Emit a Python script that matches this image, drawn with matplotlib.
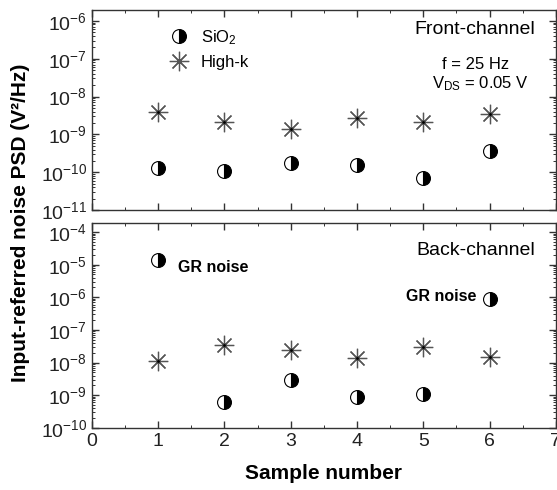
import matplotlib
matplotlib.use('Agg')
import matplotlib.pyplot as plt
from matplotlib.ticker import LogLocator, MultipleLocator, NullFormatter
import numpy as np

plt.rcParams['font.family'] = ['Liberation Sans', 'DejaVu Sans']
plt.rcParams['mathtext.fontset'] = 'custom'
plt.rcParams['mathtext.rm'] = 'Liberation Sans'
plt.rcParams['mathtext.it'] = 'Liberation Sans'
plt.rcParams['mathtext.bf'] = 'Liberation Sans:bold'

# data
samples = [1, 2, 3, 4, 5, 6]
front_sio2 = [1.3e-10, 1.07e-10, 1.75e-10, 1.55e-10, 7e-11, 3.6e-10]
front_highk = [3.9e-9, 2.1e-9, 1.4e-9, 2.7e-9, 2.1e-9, 3.5e-9]
back_sio2 = [1.4e-5, 6.3e-10, 2.9e-9, 8.9e-10, 1.1e-9, 8.7e-7]
back_highk = [1.1e-8, 3.5e-8, 2.4e-8, 1.4e-8, 3.0e-8, 1.5e-8]

star = (8, 2, 0)
circ_kw = dict(marker='o', ls='none', ms=10, fillstyle='right', mfc='black',
               mfcalt='white', mec='black', mew=0.8)
star_kw = dict(marker=star, ls='none', ms=14, mec='#555555', mew=0.9)

fig = plt.figure(figsize=(5.57, 4.9), dpi=100)
ax1 = fig.add_axes([0.165, 0.571, 0.833, 0.409])
ax2 = fig.add_axes([0.165, 0.127, 0.833, 0.418])

def style(ax, ylo, yhi):
    ax.set_yscale('log')
    ax.set_xlim(0, 7)
    ax.set_ylim(ylo, yhi)
    ax.xaxis.set_major_locator(MultipleLocator(1))
    ax.xaxis.set_minor_locator(MultipleLocator(0.5))
    ax.yaxis.set_major_locator(LogLocator(base=10, numticks=20))
    ax.yaxis.set_minor_locator(LogLocator(base=10, subs=np.arange(2, 10), numticks=20))
    ax.yaxis.set_minor_formatter(NullFormatter())
    ax.tick_params(which='both', direction='in', top=True, right=True, labelsize=14,
                   color='#333333', labelcolor='#222222')
    ax.tick_params(which='major', length=5, width=1)
    ax.tick_params(which='minor', length=2.5, width=0.7)
    for s in ax.spines.values():
        s.set_linewidth(1.0)
        s.set_color('#333333')

style(ax1, 1e-11, 1.95e-6)
style(ax2, 1e-10, 1.9e-4)
ax1.tick_params(labelbottom=False)

ax1.plot(samples, front_sio2, **circ_kw, label='SiO$_2$')
ax1.plot(samples, front_highk, **star_kw, label='High-k')
ax1.plot(samples, front_highk, 'k.', ms=2)
ax2.plot(samples, back_sio2, **circ_kw)
ax2.plot(samples, back_highk, **star_kw)
ax2.plot(samples, back_highk, 'k.', ms=2)

ax1.legend(loc='upper left', bbox_to_anchor=(0.12, 0.985), frameon=False, fontsize=12,
           handletextpad=0.3, labelspacing=0.5, numpoints=1)

ax1.text(0.955, 0.90, 'Front-channel', transform=ax1.transAxes, ha='right', va='center', fontsize=14)
ax1.text(0.899, 0.725, 'f = 25 Hz', transform=ax1.transAxes, ha='right', va='center', fontsize=12)
ax1.text(0.942, 0.63, 'V$_{\\rm DS}$ = 0.05 V', transform=ax1.transAxes, ha='right', va='center', fontsize=12)

ax2.text(0.955, 0.865, 'Back-channel', transform=ax2.transAxes, ha='right', va='center', fontsize=14)
ax2.text(1.3, 1.4e-5, 'GR noise', ha='left', va='top', fontsize=11.5, fontweight='bold')
ax2.text(5.8, 1.05e-6, 'GR noise', ha='right', va='center', fontsize=11.5, fontweight='bold')

ax2.set_xlabel('Sample number', fontsize=15, fontweight='bold', labelpad=10)
fig.text(0.037, 0.545, 'Input-referred noise PSD (V²/Hz)', rotation=90, ha='center', va='center',
         fontsize=15, fontweight='bold')

fig.savefig('out.png', dpi=100)
